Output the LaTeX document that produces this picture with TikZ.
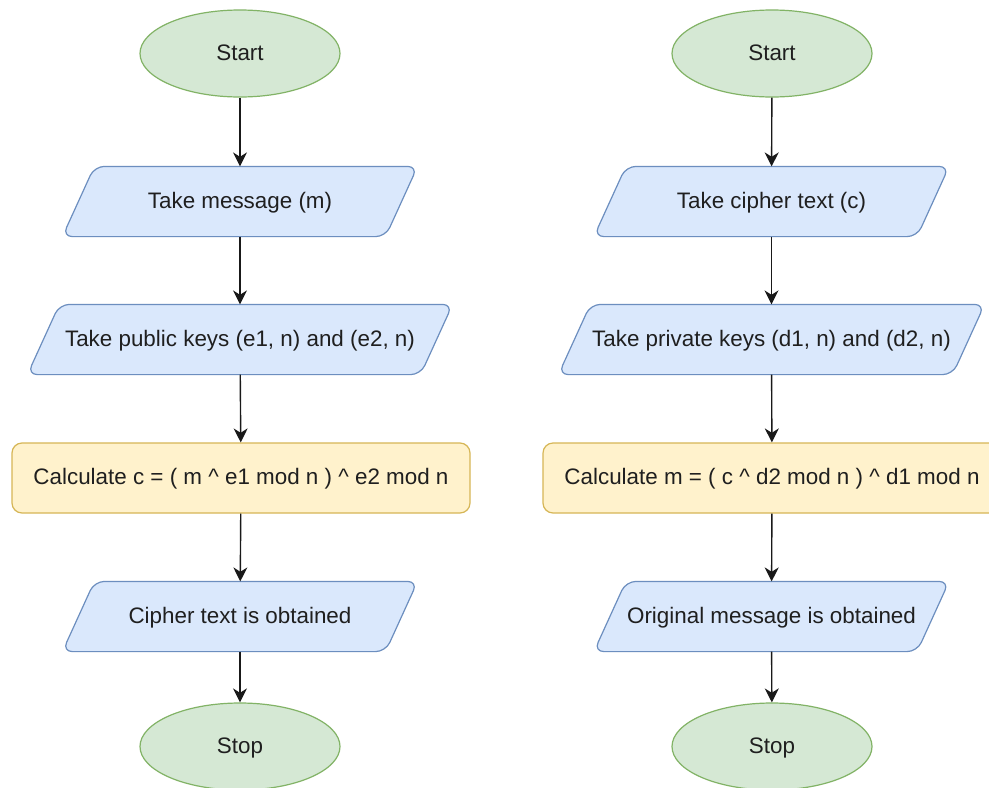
\documentclass[tikz,border=0pt]{standalone}
\usepackage{fontspec}
\setmainfont{Liberation Sans}
\usetikzlibrary{shapes.geometric,arrows.meta,backgrounds}

\definecolor{termfill}{HTML}{D5E8D4}
\definecolor{termline}{HTML}{82B366}
\definecolor{iofill}{HTML}{DAE8FC}
\definecolor{ioline}{HTML}{6C8EBF}
\definecolor{procfill}{HTML}{FFF2CC}
\definecolor{procline}{HTML}{D6B656}
\definecolor{txt}{HTML}{1F1F1F}

\tikzset{
  base/.style={font=\fontsize{11.2}{13}\selectfont, text=txt, inner sep=0pt,
    text height=8.4pt, text depth=1.6pt, line width=0.6pt},
  terminal/.style={base, ellipse, draw=termline, fill=termfill,
    minimum width=100pt, minimum height=43.5pt},
  iobox/.style={base, minimum height=34.5pt},
  procbox/.style={base, rectangle, rounded corners=5pt, draw=procline, fill=procfill,
    minimum height=35pt},
  flow/.style={line width=0.7pt, draw=black!90,
    -{Stealth[length=7pt, width=7pt, inset=2.2pt]}}
}

% slanted input/output outline drawn behind a named node
\newcommand{\ioshape}[1]{%
  \begin{pgfonlayer}{background}
    \draw[line width=0.6pt, draw=ioline, fill=iofill, rounded corners=5pt]
      ([xshift=16pt]#1.north west) -- (#1.north east)
      -- ([xshift=-16pt]#1.south east) -- (#1.south west) -- cycle;
  \end{pgfonlayer}}

\begin{document}
\begin{tikzpicture}[x=0.5pt, y=-0.5pt]
  \begin{pgfonlayer}{background}
    \fill[white] (0,0) rectangle (989,787);
  \end{pgfonlayer}
  \clip (0,0) rectangle (989,787);

  % encryption
  \node[terminal] (s1) at (240,53.5) {Start};
  \node[iobox, minimum width=177pt] (m1) at (240,201.5) {Take message (m)};
  \node[iobox, minimum width=212pt] (k1) at (240,339.5) {Take public keys (e1, n) and (e2, n)};
  \node[procbox, minimum width=229pt] (c1) at (241,478) {Calculate c = ( m \^{} e1 mod n ) \^{} e2 mod n};
  \node[iobox, minimum width=177pt] (o1) at (240,616.5) {Cipher text is obtained};
  \node[terminal] (e1) at (240,746.5) {Stop};

  % decryption
  \node[terminal] (s2) at (772,53.5) {Start};
  \node[iobox, minimum width=177pt] (m2) at (771.5,201.5) {Take cipher text (c)};
  \node[iobox, minimum width=212.5pt] (k2) at (771.5,339.5) {Take private keys (d1, n) and (d2, n)};
  \node[procbox, minimum width=229pt] (c2) at (772,478) {Calculate m = ( c \^{} d2 mod n ) \^{} d1 mod n};
  \node[iobox, minimum width=177pt] (o2) at (771.5,616.5) {Original message is obtained};
  \node[terminal] (e2) at (772,746.5) {Stop};

  \ioshape{m1}\ioshape{k1}\ioshape{o1}
  \ioshape{m2}\ioshape{k2}\ioshape{o2}

  \foreach \a/\b in {s1/m1, m1/k1, k1/c1, c1/o1, o1/e1,
                     s2/m2, m2/k2, k2/c2, c2/o2, o2/e2}
    \draw[flow] (\a) -- (\b);
\end{tikzpicture}
\end{document}
